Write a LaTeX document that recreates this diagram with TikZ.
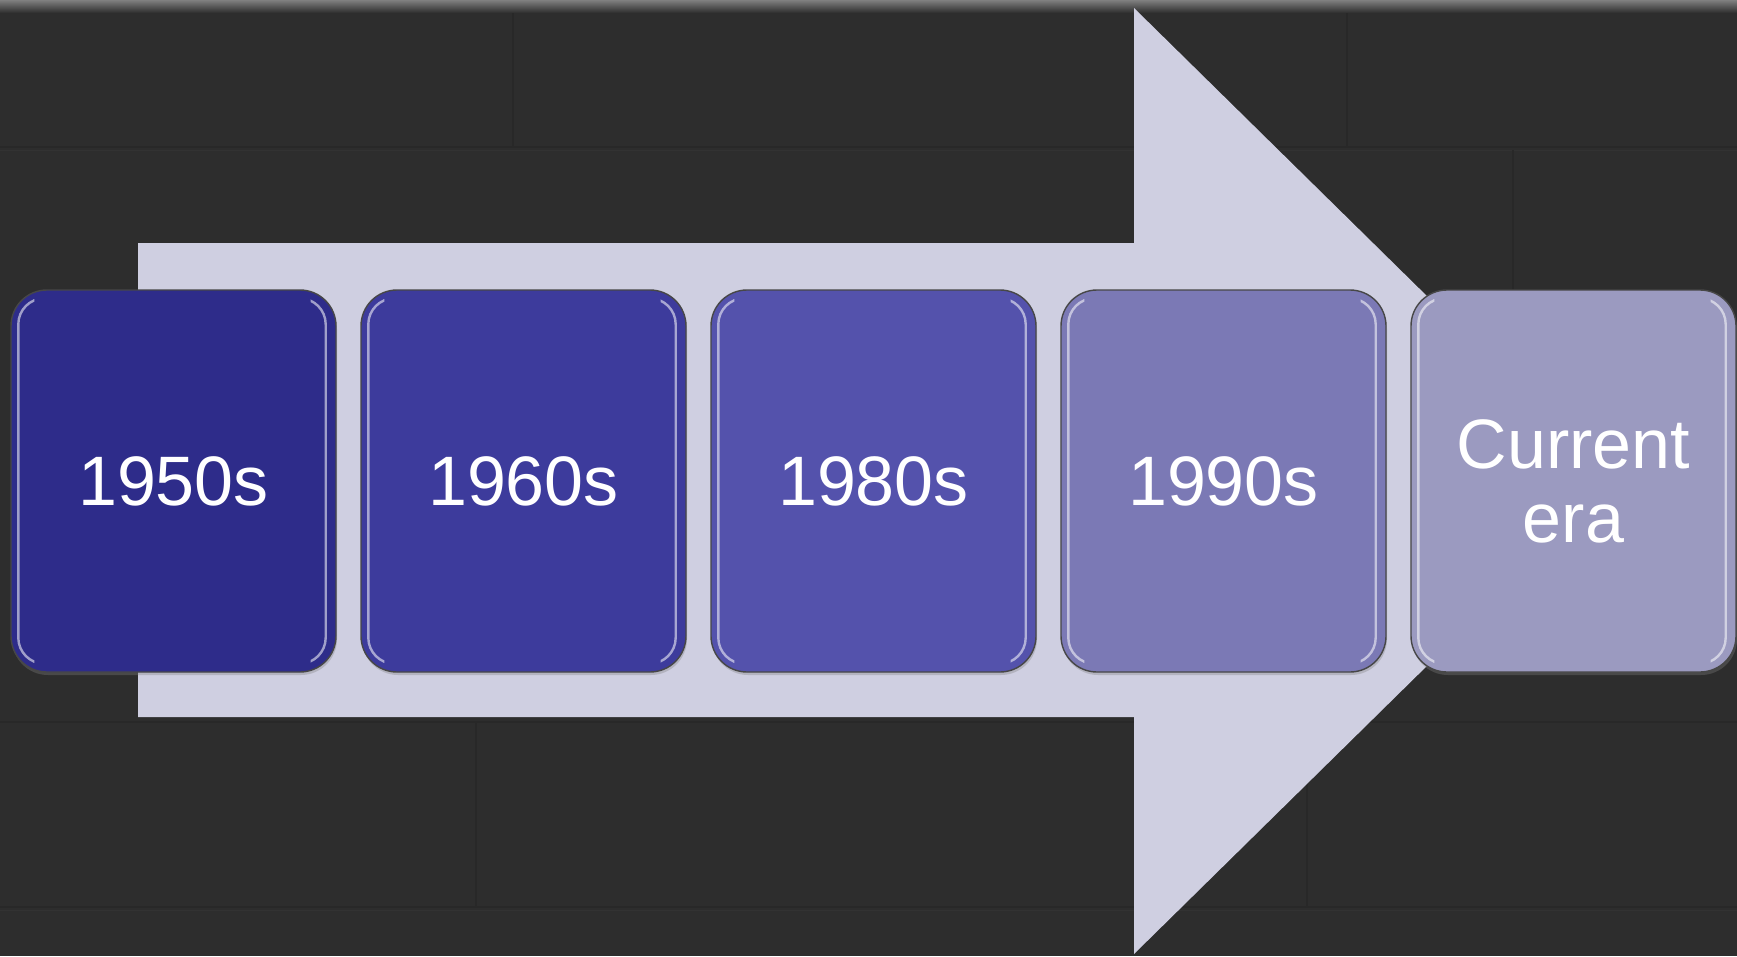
\documentclass[tikz,border=0pt]{standalone}
\usepackage{fontspec}
\setmainfont{Liberation Sans}
\usetikzlibrary{calc,shadows}
\definecolor{bg}{HTML}{2D2D2D}
\definecolor{brickline}{HTML}{282828}
\definecolor{bricklight}{HTML}{323232}
\definecolor{arrowc}{HTML}{CFCFE1}
\definecolor{ca}{HTML}{2E2C8A}
\definecolor{cb}{HTML}{3D3B9C}
\definecolor{cc}{HTML}{5452AC}
\definecolor{cd}{HTML}{7B79B5}
\definecolor{ce}{HTML}{9B9AC0}
\begin{document}
\begin{tikzpicture}[x=1pt,y=-1pt,
  era/.style={draw=black!72, line width=1.4pt, rounded corners=36pt,
    minimum width=325pt, minimum height=382pt, inner sep=0pt,
    text=white, font=\fontsize{70}{74}\selectfont, align=center,
    drop shadow={shadow xshift=1pt, shadow yshift=-3pt, opacity=0.35}},
  hl/.style={draw=white, draw opacity=0.55, line width=2.4pt, rounded corners=26pt},
  brick/.style={draw=brickline, line width=2pt},
  bricklt/.style={draw=bricklight, line width=1pt}]
\fill[bg] (0,0) rectangle (1737,956);
\useasboundingbox (0,0) rectangle (1737,956);
% background texture lines
\shade[top color=black!50, bottom color=bg] (0,0) rectangle (1737,13);
\draw[brick] (0,147) -- (1737,147);
\draw[bricklt] (0,150) -- (1737,150);
\draw[brick] (0,907) -- (1737,907);
\draw[bricklt] (0,910) -- (1737,910);
\draw[brick] (0,722) -- (1737,722);
\draw[brick] (513,13) -- (513,147);
\draw[brick] (1347,13) -- (1347,147);
\draw[brick] (1513,150) -- (1513,290);
\draw[brick] (476,722) -- (476,907);
\draw[brick] (1307,722) -- (1307,907);
% big arrow
\fill[arrowc] (138,243) -- (1134,243) -- (1134,8) -- (1615,481)
  -- (1134,954) -- (1134,717) -- (138,717) -- cycle;
% boxes
\node[era, fill=ca] (n1) at (173.5,481) {1950s};
\node[era, fill=cb] (n2) at (523.5,481) {1960s};
\node[era, fill=cc] (n3) at (873.5,481) {1980s};
\node[era, fill=cd] (n4) at (1223.5,481) {1990s};
\node[era, fill=ce] (n5) at (1573.5,481) {Current\\era};
% glossy side highlights
\foreach \n in {n1,n2,n3,n4,n5}{
  \begin{scope}
    \clip ($(\n.north west)$) rectangle ($(\n.south west)+(24,0)$)
          ($(\n.north east)+(-26,0)$) rectangle ($(\n.south east)$);
    \draw[hl] ($(\n.north west)+(8,9)$) rectangle ($(\n.south east)+(-11,-9)$);
  \end{scope}
}
\end{tikzpicture}
\end{document}
